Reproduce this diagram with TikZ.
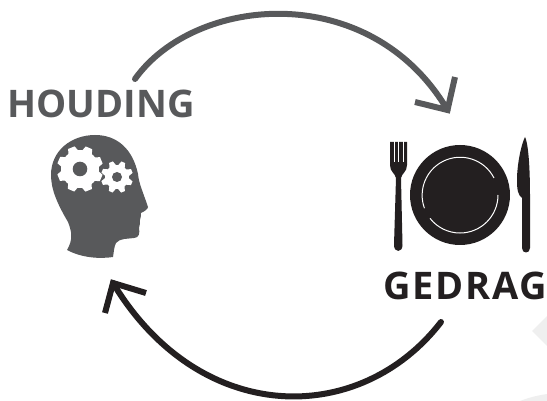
\documentclass[tikz,border=0pt]{standalone}
\usepackage{fontspec}
\setmainfont{Open Sans}
\usetikzlibrary{arrows.meta}
\definecolor{headgrey}{HTML}{58595B}
\definecolor{plateblack}{HTML}{231F20}
\definecolor{cornergrey}{HTML}{EFEFEF}
\tikzset{
  label text/.style={font=\fontsize{38}{40}\selectfont\bfseries, inner sep=0pt},
  loop arrow/.style={line width=6pt, line cap=round, line join=miter},
}
\begin{document}
\begin{tikzpicture}[x=1pt,y=-1pt]
\useasboundingbox (0,0) rectangle (547,401);
% corner shapes
\fill[cornergrey] (547,316) -- (532,331) -- (547,346) -- cycle;
\fill[cornergrey] (520,401) .. controls (530,397) and (540,395) .. (547,394) -- (547,401) -- cycle;
% labels
\node[label text, text=headgrey] (houding) at (101,104) {HOUDING};
\node[label text, text=plateblack] (gedrag) at (465.5,286) {\addfontfeatures{LetterSpace=4.7}GEDRAG};
% head
\fill[headgrey] (67,250)
  .. controls (73,240) and (72,232) .. (68,222)
  .. controls (58,205) and (51,190) .. (51,175)
  .. controls (51,150) and (72,135) .. (95,135)
  .. controls (118,135) and (133,150) .. (138,174)
  .. controls (139,184) and (143,192) .. (148,207)
  .. controls (148,209) and (145,211) .. (141,213)
  .. controls (141,215) and (141,217) .. (140,220)
  .. controls (141,223) and (139,225) .. (139,228)
  .. controls (140,233) and (139,238) .. (134,238)
  .. controls (128,239) and (120,238) .. (116,243)
  .. controls (114,247) and (114,251) .. (113,257)
  .. controls (100,259) and (82,258) .. (67,250) -- cycle;
% gears
\foreach \gx/\gy/\gr/\gh/\gt in {80/169/19/7.3/9, 117/177/12/5/6}{
  \fill[white] (\gx,\gy) circle (\gr);
  \foreach \ga in {0,45,...,315}
    \fill[white, shift={(\gx,\gy)}, rotate=\ga+22] (-\gt/2-1,-\gr+2) -- (-\gt/2+1,-\gr-4) -- (\gt/2-1,-\gr-4) -- (\gt/2+1,-\gr+2) -- cycle;
  \fill[headgrey] (\gx,\gy) circle (\gh);
}
% fork
\fill[plateblack] (390,142) -- (407,142) -- (407,165)
  .. controls (407,172) and (402,173) .. (401,178)
  -- (402.5,245) .. controls (402.5,253) and (394,253) .. (394,245)
  -- (396,178) .. controls (395,173) and (390,172) .. (390,165) -- cycle;
\foreach \sx in {394,398.5,403}
  \draw[white, line width=1pt] (\sx,141) -- (\sx,162);
% plate
\fill[plateblack] (460,195) circle (50);
\draw[white, line width=1pt] (494,178) arc (-27:-200:38);
\draw[white, line width=1pt] (498,195) arc (0:142:38);
% knife
\fill[plateblack] (525,137)
  .. controls (529,145) and (530,175) .. (530,195)
  -- (530,248) .. controls (530,254) and (522,254) .. (522,248)
  -- (522,198) .. controls (518,195) and (517,190) .. (517,180)
  .. controls (517,165) and (521,145) .. (525,137) -- cycle;
% arrows
\coordinate (topstart) at (135,79);
\coordinate (toptip) at (447.5,110);
\coordinate (topleft) at (415,102);
\coordinate (topright) at (455,77);
\draw[loop arrow, color=headgrey] (topstart) .. controls (195,-5) and (370,-21) .. (toptip);
\draw[loop arrow, color=headgrey, line cap=butt] (topleft) -- (toptip) -- (topright);
\coordinate (botstart) at (441,322);
\coordinate (bottip) at (113,283);
\coordinate (botleft) at (105,313);
\coordinate (botright) at (146,293);
\draw[loop arrow, color=plateblack] (botstart) .. controls (360,427) and (200,427) .. (bottip);
\draw[loop arrow, color=plateblack, line cap=butt] (botleft) -- (bottip) -- (botright);
\end{tikzpicture}
\end{document}
